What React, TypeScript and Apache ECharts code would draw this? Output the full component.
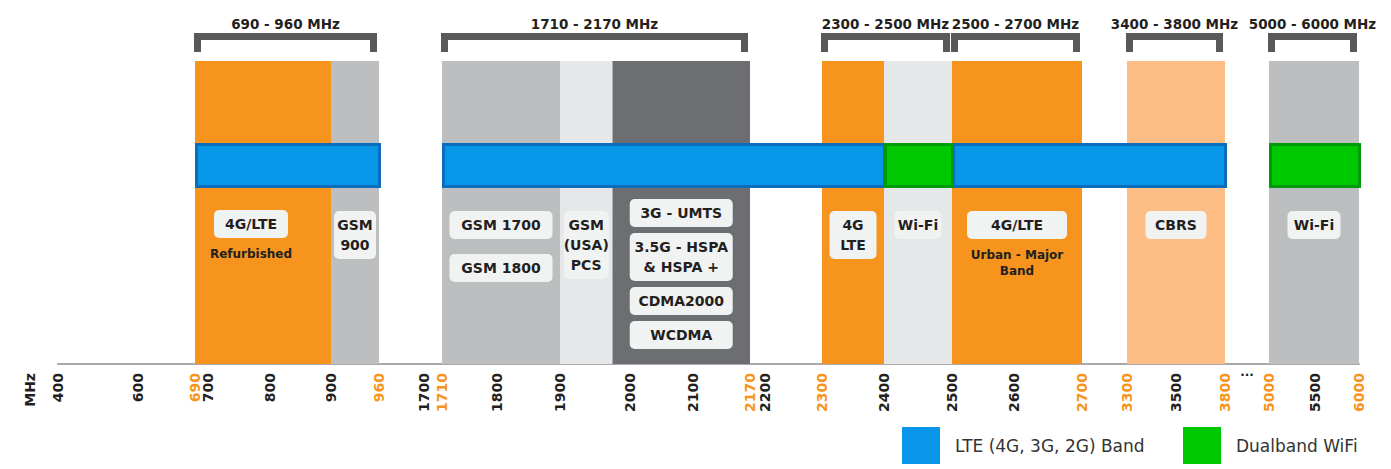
import React, { useEffect, useRef } from 'react';
import * as echarts from 'echarts';

// ---- axis (non-linear frequency scale, as drawn in the reference) ----
const tickValues = [400, 600, 690, 700, 800, 900, 960, 1700, 1710, 1800, 1900, 2000, 2100, 2170, 2200, 2300, 2400, 2500, 2600, 2700, 3300, 3500, 3800, 5000, 5500, 6000];
const edgeTicks = [690, 960, 1710, 2170, 2300, 2700, 3300, 3800, 5000, 6000];
// display stops of the broken / stretched axis, one per tick value
const scaleStops = [0, 80, 137, 150, 212, 273, 321, 366, 384, 439, 502, 572, 635, 692, 707, 764, 826, 894, 956, 1024, 1069, 1118, 1167, 1211, 1257, 1301];

// ---- spectrum bands ----
const bandFrom = [690, 900, 1710, 1900, 1975, 2300, 2400, 2500, 3300, 5000];
const bandTo = [900, 960, 1900, 1975, 2170, 2400, 2500, 2700, 3800, 6000];
const bandKind = ['lte', 'gsm', 'gsm', 'pcs', 'umts', 'lte', 'wifi24', 'lte', 'cbrs', 'wifi5'];

// ---- LTE band and dual-band WiFi ranges ----
const lteFrom = [690, 1710, 2500];
const lteTo = [960, 2400, 3800];
const wifiFrom = [2400, 5000];
const wifiTo = [2500, 6000];

// ---- brackets ----
const bracketFrom = [690, 1710, 2300, 2500, 3300, 5000];
const bracketTo = [960, 2170, 2500, 2700, 3800, 6000];
const bracketTitles = ['690 - 960 MHz', '1710 - 2170 MHz', '2300 - 2500 MHz', '2500 - 2700 MHz', '3400 - 3800 MHz', '5000 - 6000 MHz'];

// ---- label boxes per band ----
const labelFrom = [690, 900, 1710, 1900, 1975, 2300, 2400, 2500, 3300, 5000];
const labelTo = [900, 960, 1900, 1975, 2170, 2400, 2500, 2700, 3800, 6000];
const labelBoxes: string[][][] = [
  [['4G/LTE']],
  [['GSM', '900']],
  [['GSM 1700'], ['GSM 1800']],
  [['GSM', '(USA)', 'PCS']],
  [['3G - UMTS'], ['3.5G - HSPA', '& HSPA +'], ['CDMA2000'], ['WCDMA']],
  [['4G', 'LTE']],
  [['Wi-Fi']],
  [['4G/LTE']],
  [['CBRS']],
  [['Wi-Fi']],
];
const labelNotes: (string[] | null)[] = [['Refurbished'], null, null, null, null, null, null, ['Urban - Major', 'Band'], null, null];

const legendNames = ['LTE (4G, 3G, 2G) Band', 'Dualband WiFi'];

// ---- styles ----
const FONT = '"DejaVu Sans", sans-serif';
const ORANGE = '#F7941D';
const TEXT = '#231F20';
const bandColors: Record<string, string> = {
  lte: '#F7941D',
  gsm: '#BCBEC0',
  pcs: '#E6E7E8',
  umts: '#6D6E71',
  wifi24: '#E6E7E8',
  cbrs: '#FDBE86',
  wifi5: '#BCBEC0',
};
const stackStyle = [
  { w: 74, top: 149, gap: 8, dx: -12 },
  { w: 42, top: 150, gap: 8, dx: 0 },
  { w: 103, top: 150, gap: 15, dx: 0 },
  { w: 45, top: 150, gap: 8, dx: 0 },
  { w: 103, top: 138, gap: 6, dx: 0 },
  { w: 47, top: 150, gap: 8, dx: 0 },
  { w: 47, top: 150, gap: 8, dx: 0 },
  { w: 100, top: 150, gap: 8, dx: 0 },
  { w: 61, top: 150, gap: 8, dx: 0 },
  { w: 53, top: 150, gap: 8, dx: 0 },
];
const BAR_TOP = 0.729;
const BAR_BOTTOM = 0.581;
const LINE_H = 20;
const BOX_PAD = 4;

function fpos(f: number): number {
  for (let i = 0; i < tickValues.length - 1; i++) {
    const a = tickValues[i];
    const b = tickValues[i + 1];
    if (f >= a && f <= b) {
      return scaleStops[i] + ((f - a) / (b - a)) * (scaleStops[i + 1] - scaleStops[i]);
    }
  }
  return f < tickValues[0] ? scaleStops[0] : scaleStops[scaleStops.length - 1];
}

function tickFromPos(v: number): number {
  let best = 0;
  let bd = Infinity;
  tickValues.forEach((t, i) => {
    const d = Math.abs(scaleStops[i] - v);
    if (d < bd) {
      bd = d;
      best = t;
    }
  });
  return best;
}

const rangeData = (from: number[], to: number[]) => from.map((f, i) => [fpos(f), fpos(to[i]), 0, 1]);

function barRender(fill: string, stroke: string) {
  return (params: any, api: any) => {
    const p0 = api.coord([api.value(0), BAR_TOP]);
    const p1 = api.coord([api.value(1), BAR_BOTTOM]);
    return {
      type: 'rect',
      shape: { x: p0[0] + 1.5, y: p0[1] + 1.5, width: p1[0] - p0[0] - 1, height: p1[1] - p0[1] - 3 },
      style: { fill, stroke, lineWidth: 3 },
    };
  };
}

export default function App() {
  const ref = useRef<HTMLDivElement>(null);
  useEffect(() => {
    if (!ref.current) return;
    const chart = echarts.init(ref.current, null, { renderer: 'svg' });
    const option: any = {
      animation: false,
      backgroundColor: '#ffffff',
      grid: { left: 58, right: 32, top: 61, bottom: 105, containLabel: false, outerBoundsMode: 'none' },
      xAxis: {
        type: 'value',
        min: scaleStops[0],
        max: scaleStops[scaleStops.length - 1],
        axisLine: { show: true, lineStyle: { color: '#A7A9AC', width: 2 } },
        axisTick: { show: false },
        splitLine: { show: false },
        axisLabel: {
          customValues: tickValues.map(fpos),
          rotate: 90,
          margin: 9,
          showMinLabel: true,
          showMaxLabel: true,
          formatter: (v: number) => {
            const t = tickFromPos(v);
            return edgeTicks.includes(t) ? `{e|${t}}` : `{n|${t}}`;
          },
          rich: {
            e: { color: ORANGE, fontWeight: 'bold', fontSize: 14, fontFamily: FONT },
            n: { color: TEXT, fontWeight: 'bold', fontSize: 14, fontFamily: FONT },
          },
        },
      },
      yAxis: { type: 'value', min: 0, max: 1, show: false },
      legend: [
        {
          data: [legendNames[0]],
          left: 897,
          top: 422,
          icon: 'rect',
          itemWidth: 38,
          itemHeight: 37,
          selectedMode: false,
          itemStyle: { borderWidth: 0 },
          textStyle: { fontSize: 17, fontFamily: FONT, color: '#333333', padding: [0, 0, 0, 10] },
        },
        {
          data: [legendNames[1]],
          left: 1178,
          top: 422,
          icon: 'rect',
          itemWidth: 38,
          itemHeight: 37,
          selectedMode: false,
          itemStyle: { borderWidth: 0 },
          textStyle: { fontSize: 17, fontFamily: FONT, color: '#333333', padding: [0, 0, 0, 10] },
        },
      ],
      graphic: [
        {
          type: 'text',
          x: 30,
          y: 373,
          rotation: Math.PI / 2,
          style: {
            text: 'MHz',
            textAlign: 'right',
            textVerticalAlign: 'middle',
            align: 'right',
            verticalAlign: 'middle',
            font: `bold 14px ${FONT}`,
            fill: TEXT,
          },
        },
      ],
      series: [
        {
          type: 'custom',
          name: 'bands',
          z: 1,
          silent: true,
          encode: { x: [0, 1], y: [2, 3] },
          data: rangeData(bandFrom, bandTo),
          renderItem: (params: any, api: any) => {
            const p0 = api.coord([api.value(0), 1]);
            const p1 = api.coord([api.value(1), 0]);
            return {
              type: 'rect',
              shape: { x: p0[0], y: p0[1], width: p1[0] - p0[0], height: p1[1] - p0[1] },
              style: { fill: bandColors[bandKind[params.dataIndex]] },
            };
          },
        },
        {
          type: 'custom',
          name: legendNames[0],
          z: 3,
          silent: true,
          itemStyle: { color: '#0A96E8' },
          encode: { x: [0, 1], y: [2, 3] },
          data: rangeData(lteFrom, lteTo),
          renderItem: barRender('#0896E8', '#0C6DBC'),
        },
        {
          type: 'custom',
          name: legendNames[1],
          z: 4,
          silent: true,
          itemStyle: { color: '#00C800' },
          encode: { x: [0, 1], y: [2, 3] },
          data: rangeData(wifiFrom, wifiTo),
          renderItem: barRender('#00C800', '#009A0A'),
        },
        {
          type: 'custom',
          name: 'labels',
          z: 5,
          silent: true,
          encode: { x: [0, 1], y: [2, 3] },
          data: rangeData(labelFrom, labelTo),
          renderItem: (params: any, api: any) => {
            const i = params.dataIndex;
            const st = stackStyle[i];
            const x0 = api.coord([api.value(0), 1])[0];
            const x1 = api.coord([api.value(1), 1])[0];
            const top = api.coord([api.value(0), 1])[1];
            const cx = (x0 + x1) / 2 + st.dx;
            let y = top + st.top;
            const children: any[] = [];
            labelBoxes[i].forEach((lines) => {
              const h = lines.length * LINE_H + BOX_PAD * 2;
              children.push({
                type: 'rect',
                shape: { x: cx - st.w / 2, y, width: st.w, height: h, r: 5 },
                style: { fill: '#F1F2F2' },
              });
              children.push({
                type: 'text',
                style: {
                  text: lines.join('\n'),
                  x: cx,
                  y: y + h / 2,
                  align: 'center',
                  verticalAlign: 'middle',
                  lineHeight: LINE_H,
                  fill: TEXT,
                  fontFamily: FONT,
                  fontWeight: 'bold',
                  fontSize: 14,
                },
              });
              y += h + st.gap;
            });
            const note = labelNotes[i];
            if (note) {
              children.push({
                type: 'text',
                style: {
                  text: note.join('\n'),
                  x: cx,
                  y: y - st.gap + 8,
                  align: 'center',
                  verticalAlign: 'top',
                  lineHeight: 16,
                  fill: TEXT,
                  fontFamily: FONT,
                  fontWeight: 'bold',
                  fontSize: 12,
                },
              });
            }
            return { type: 'group', children };
          },
        },
        {
          type: 'custom',
          name: 'brackets',
          z: 5,
          silent: true,
          encode: { x: [0, 1], y: [2, 3] },
          data: rangeData(bracketFrom, bracketTo),
          renderItem: (params: any, api: any) => {
            const i = params.dataIndex;
            const x0 = api.coord([api.value(0), 1])[0] - 1;
            const x1 = api.coord([api.value(1), 1])[0] - 2;
            const top = api.coord([api.value(0), 1])[1];
            const barY = top - 28;
            const T = 7;
            const legB = top - 9;
            const fill = '#58595B';
            return {
              type: 'group',
              children: [
                { type: 'rect', shape: { x: x0, y: barY, width: x1 - x0, height: T }, style: { fill } },
                { type: 'rect', shape: { x: x0, y: barY, width: T, height: legB - barY }, style: { fill } },
                { type: 'rect', shape: { x: x1 - T, y: barY, width: T, height: legB - barY }, style: { fill } },
                {
                  type: 'text',
                  style: {
                    text: bracketTitles[i],
                    x: (x0 + x1) / 2,
                    y: barY - 9,
                    align: 'center',
                    verticalAlign: 'middle',
                    fill: TEXT,
                    fontFamily: FONT,
                    fontWeight: 'bold',
                    fontSize: 13.5,
                  },
                },
              ],
            };
          },
        },
        {
          type: 'custom',
          name: 'axisGap',
          z: 5,
          silent: true,
          encode: { x: 0, y: 1 },
          data: [[(fpos(3800) + fpos(5000)) / 2, 0]],
          renderItem: (params: any, api: any) => {
            const p = api.coord([api.value(0), 0]);
            return {
              type: 'text',
              style: {
                text: '...',
                x: p[0],
                y: p[1] + 8,
                align: 'center',
                verticalAlign: 'middle',
                fill: TEXT,
                fontFamily: FONT,
                fontWeight: 'bold',
                fontSize: 12,
              },
            };
          },
        },
      ],
    };
    chart.setOption(option);
    return () => chart.dispose();
  }, []);
  return (
    <div
      ref={ref}
      style={{ position: 'fixed', left: 0, top: 0, width: 1391, height: 469, background: '#fff' }}
    />
  );
}
